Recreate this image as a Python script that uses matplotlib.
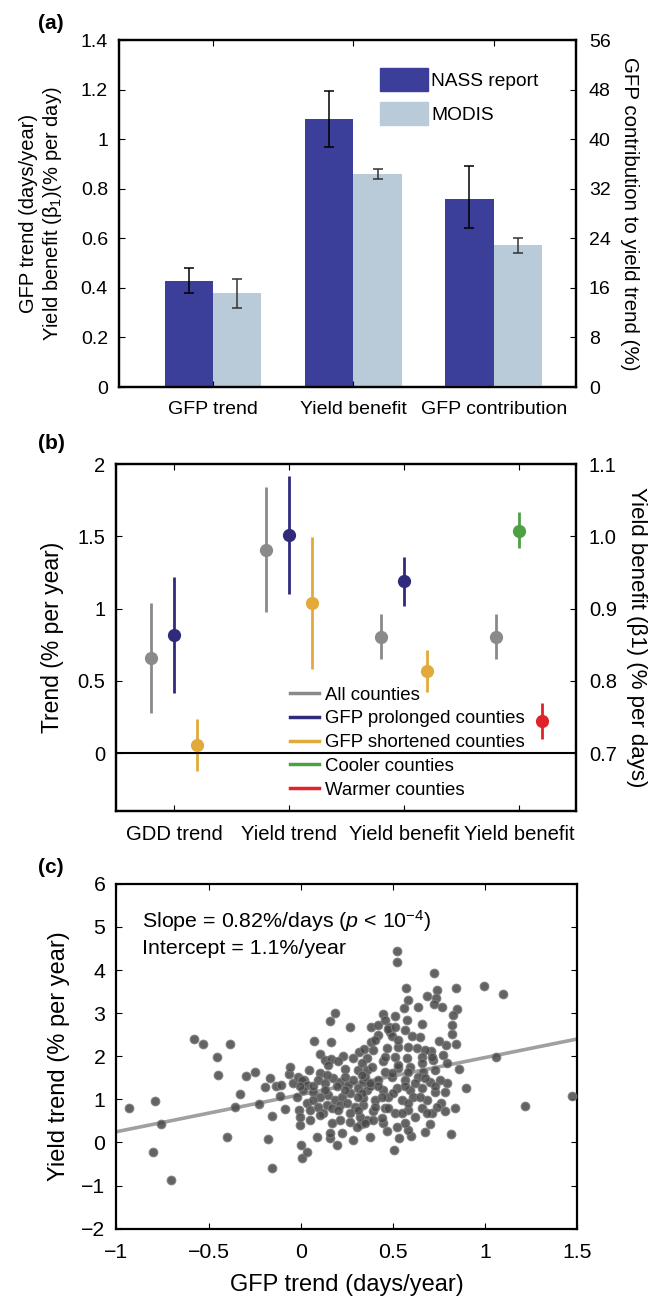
import matplotlib
matplotlib.use('Agg')
import matplotlib.pyplot as plt
from matplotlib.patches import Patch

plt.rcParams['font.family'] = ['Liberation Sans', 'DejaVu Sans']
plt.rcParams['font.size'] = 14
plt.rcParams['mathtext.fontset'] = 'custom'
plt.rcParams['mathtext.rm'] = 'Liberation Sans'
plt.rcParams['mathtext.it'] = 'Liberation Sans:italic'
plt.rcParams['axes.linewidth'] = 1.6
plt.rcParams['xtick.direction'] = 'in'
plt.rcParams['ytick.direction'] = 'in'

# ---- panel (a) data ----
a_groups = ['GFP trend', 'Yield benefit', 'GFP contribution']
nass_vals = [0.428, 1.081, 30.4]
nass_lo = [0.378, 0.969, 25.7]
nass_hi = [0.481, 1.195, 35.7]
modis_vals = [0.378, 0.859, 22.9]
modis_lo = [0.319, 0.839, 21.7]
modis_hi = [0.434, 0.879, 24.0]

# ---- panel (b) data ----  order: all, GFP prolonged/cooler, GFP shortened/warmer
b_groups = ['GDD trend', 'Yield trend', 'Yield benefit', 'Yield benefit']
gdd_mean = [0.656, 0.820, 0.058]
gdd_lo = [0.277, 0.418, -0.120]
gdd_hi = [1.040, 1.220, 0.236]
ytrend_mean = [1.409, 1.508, 1.040]
ytrend_lo = [0.979, 1.100, 0.582]
ytrend_hi = [1.838, 1.917, 1.497]
# yield benefit (right axis)
ben_gfp_mean = [0.861, 0.938, 0.814]
ben_gfp_lo = [0.830, 0.903, 0.785]
ben_gfp_hi = [0.892, 0.972, 0.843]
ben_temp_mean = [0.861, 1.007, 0.745]
ben_temp_lo = [0.830, 0.984, 0.720]
ben_temp_hi = [0.892, 1.033, 0.770]

# ---- panel (c) data ----
gfp_trend = [
    -0.934, -0.789, -0.757, -0.803, -0.702, -0.579, -0.528, -0.455, -0.384, -0.451,
    -0.327, -0.359, -0.400, -0.299, -0.247, -0.226, -0.180, -0.155, -0.155, -0.194,
    -0.167, -0.132, -0.114, -0.105, -0.085, -0.064, -0.057, -0.041, -0.018, -0.011,
    -0.006, -0.002, 0.003, 0.007, 0.035, -0.013, 0.016, 0.046, 0.074, 0.103,
    0.131, 0.161, 0.188, 0.165, 0.165, 0.227, 0.241, 0.268, 0.090, 0.158,
    0.161, 0.199, 0.225, 0.282, 0.374, 0.360, 0.392, 0.327, 0.310, 0.319,
    0.346, 0.383, 0.390, 0.381, 0.422, 0.447, 0.458, 0.479, 0.486, 0.497,
    0.511, 0.525, 0.520, 0.573, 0.582, 0.561, 0.579, 0.634, 0.657, 0.685,
    0.726, 0.742, 0.737, 0.721, 0.767, 0.841, 0.847, 0.829, 0.822, 0.822,
    0.841, 0.790, 0.749, 0.708, 0.795, 0.859, 0.898, 0.795, 0.760, 0.783,
    0.836, 0.817, 0.703, 0.674, 0.600, 0.531, 0.509, 0.467, 0.996, 1.099,
    1.058, 1.218, 1.470,
    0.150, 0.358, 0.105, 0.005, 0.033, 0.011, 0.096, 0.132, 0.177, 0.213,
    0.258, 0.286, 0.340, 0.358, 0.069, 0.105, 0.150, 0.186, 0.223, 0.268,
    0.033, 0.050, 0.096, 0.141, 0.168, 0.213, 0.250, 0.295, 0.340, 0.123,
    0.213, 0.268, 0.322, 0.349, -0.004,
    0.476, 0.421, 0.648, 0.630, 0.467, 0.530, 0.584, 0.675, 0.358, 0.449,
    0.512, 0.575, 0.657, 0.720, 0.385, 0.458, 0.530, 0.593, 0.666, 0.729,
    0.349, 0.421, 0.494, 0.566, 0.638, 0.702, 0.313, 0.376, 0.449, 0.521,
    0.593, 0.657, 0.729, 0.340, 0.403, 0.476, 0.548, 0.611, 0.684, 0.313,
    0.394, 0.458, 0.512, 0.584, 0.657, 0.711, 0.449, 0.584,
    0.403, 0.530, 0.602, 0.566, 0.512, 0.711, 0.584, 0.494, 0.421, 0.566,
    0.621, 0.503, 0.440, 0.584, 0.648, 0.403, 0.476, 0.548, 0.621, 0.684,
    0.738, 0.521, 0.566, 0.440, 0.756, 0.783, 0.675, 0.458, 0.331, 0.530,
    0.657, 0.774, 0.376, 0.331, 0.729,
    0.069, 0.132, 0.195, 0.240, 0.313, 0.069, 0.204, 0.105, 0.268, 0.168,
    0.304, 0.050, 0.240, 0.141, 0.331, 0.204, 0.286,
]
yield_trend = [
    0.81, 0.96, 0.44, -0.23, -0.87, 2.41, 2.28, 1.99, 2.29, 1.57,
    1.13, 0.83, 0.12, 1.54, 1.64, 0.89, 0.08, 0.61, -0.60, 1.28,
    1.49, 1.30, 1.08, 1.33, 0.78, 1.59, 1.76, 1.39, 1.06, 0.75,
    0.40, 0.60, -0.07, -0.37, -0.21, 1.51, 1.45, 1.68, 2.36, 2.05,
    1.91, 2.83, 3.01, 2.32, 1.93, 2.01, 1.71, 2.69, 0.12, 0.10,
    0.23, -0.06, 0.23, 0.05, 0.12, 0.52, 0.52, 0.44, 1.68, 2.11,
    2.16, 2.69, 2.14, 2.34, 2.73, 2.97, 2.84, 2.69, 2.57, 2.46,
    2.93, 4.45, 4.19, 3.59, 3.31, 3.11, 2.84, 3.15, 2.74, 3.41,
    3.94, 3.54, 3.35, 3.21, 3.15, 3.58, 3.09, 2.96, 2.73, 2.52,
    2.29, 2.26, 2.36, 2.12, 1.84, 1.70, 1.27, 1.37, 0.91, 0.72,
    0.81, 0.20, 0.44, 0.25, 0.14, 0.10, -0.17, 0.27, 3.64, 3.45,
    1.98, 0.85, 1.08,
    1.80, 1.68, 1.62, 1.45, 1.34, 1.22, 1.45, 1.37, 1.49, 1.41,
    1.34, 1.45, 1.41, 1.22, 1.18, 1.06, 1.10, 0.99, 1.06, 1.14,
    0.91, 0.76, 0.83, 0.87, 0.80, 0.87, 0.91, 0.83, 0.87, 0.68,
    0.52, 0.48, 0.60, 0.45, 1.30,
    2.63, 2.50, 2.44, 2.19, 2.19, 2.22, 2.22, 2.15, 1.95, 1.88,
    1.99, 1.95, 1.99, 1.92, 1.76, 1.64, 1.72, 1.76, 1.64, 1.68,
    1.53, 1.45, 1.53, 1.45, 1.53, 1.41, 1.26, 1.30, 1.22, 1.26,
    1.22, 1.26, 1.18, 1.03, 0.99, 1.06, 0.99, 1.06, 0.99, 0.76,
    0.72, 0.80, 0.68, 0.76, 0.80, 0.68, 0.45, 0.29,
    2.38, 2.38, 2.46, 2.61, 2.69, 1.99, 1.64, 1.61, 1.30, 1.30,
    1.37, 1.14, 1.06, 0.91, 1.06, 0.83, 0.79, 0.68, 0.60, 0.68,
    0.83, 0.37, 0.45, 0.56, 1.45, 1.18, 1.49, 1.99, 1.84, 1.80,
    1.84, 2.03, 1.37, 1.14, 1.30,
    1.30, 1.22, 1.30, 1.22, 1.06, 0.99, 0.76, 0.64, 0.68, 0.45,
    0.37, 0.52, 1.53, 1.57, 1.57, 1.88, 1.95,
]
fit_slope = 0.86
fit_intercept = 1.11

nass_color = '#3b3f99'
modis_color = '#b9cbd8'
b_colors_gfp = ['#8a8a8a', '#2f2a7c', '#e2a93b']
b_colors_temp = ['#8a8a8a', '#4ea045', '#e0222b']

fig = plt.figure(figsize=(6.58, 13.01), dpi=100)

# ================= (a) =================
ax = fig.add_axes([0.181, 0.7025, 0.695, 0.2667])
ax2 = ax.twinx()
w = 0.345
pos = [1, 2, 3]
err_kw = dict(fmt='none', capsize=3.5, elinewidth=1.1, capthick=1.1)
for i in range(2):
    ax.bar(pos[i] - w / 2, nass_vals[i], w, color=nass_color)
    ax.bar(pos[i] + w / 2, modis_vals[i], w, color=modis_color)
    ax.errorbar(pos[i] - w / 2, nass_vals[i],
                yerr=[[nass_vals[i] - nass_lo[i]], [nass_hi[i] - nass_vals[i]]],
                ecolor='black', **err_kw)
    ax.errorbar(pos[i] + w / 2, modis_vals[i],
                yerr=[[modis_vals[i] - modis_lo[i]], [modis_hi[i] - modis_vals[i]]],
                ecolor='#333333', **err_kw)
ax2.bar(pos[2] - w / 2, nass_vals[2], w, color=nass_color)
ax2.bar(pos[2] + w / 2, modis_vals[2], w, color=modis_color)
ax2.errorbar(pos[2] - w / 2, nass_vals[2],
             yerr=[[nass_vals[2] - nass_lo[2]], [nass_hi[2] - nass_vals[2]]],
             ecolor='black', **err_kw)
ax2.errorbar(pos[2] + w / 2, modis_vals[2],
             yerr=[[modis_vals[2] - modis_lo[2]], [modis_hi[2] - modis_vals[2]]],
             ecolor='#333333', **err_kw)
ax.set_xlim(0.33, 3.59)
ax.set_ylim(0, 1.4)
ax2.set_ylim(0, 56)
ax.set_yticks([0, 0.2, 0.4, 0.6, 0.8, 1, 1.2, 1.4])
ax.set_yticklabels(['0', '0.2', '0.4', '0.6', '0.8', '1', '1.2', '1.4'])
ax2.set_yticks(range(0, 57, 8))
ax.set_xticks(pos)
ax.set_xticklabels(a_groups)
ax.tick_params(axis='x', top=True, pad=10, length=4)
ax.tick_params(axis='y', pad=8, length=4)
ax2.tick_params(axis='y', pad=9, length=4)
ax.set_ylabel('GFP trend (days/year)\nYield benefit (β$_1$)(% per day)',
              fontsize=14.5, labelpad=12)
ax2.set_ylabel('GFP contribution to yield trend (%)', fontsize=14.8,
               rotation=270, labelpad=20)
ax.legend(handles=[Patch(color=nass_color, label='NASS report'),
                   Patch(color=modis_color, label='MODIS')],
          loc='upper left', bbox_to_anchor=(0.577, 0.948), bbox_transform=fig.transFigure,
          frameon=False, handlelength=2.5, handleheight=1.5, handletextpad=0.2,
          labelspacing=0.55, borderpad=0, borderaxespad=0, fontsize=13.8)

# ================= (b) =================
bx = fig.add_axes([0.177, 0.3766, 0.699, 0.2667])
bx2 = bx.twinx()
offs = [-0.2, 0.0, 0.2]
pt_kw = dict(fmt='o', markersize=8.5, elinewidth=2.0, capsize=0)
for k in range(3):
    bx.errorbar(1 + offs[k], gdd_mean[k],
                yerr=[[gdd_mean[k] - gdd_lo[k]], [gdd_hi[k] - gdd_mean[k]]],
                color=b_colors_gfp[k], **pt_kw)
    bx.errorbar(2 + offs[k], ytrend_mean[k],
                yerr=[[ytrend_mean[k] - ytrend_lo[k]], [ytrend_hi[k] - ytrend_mean[k]]],
                color=b_colors_gfp[k], **pt_kw)
    bx2.errorbar(3 + offs[k], ben_gfp_mean[k],
                 yerr=[[ben_gfp_mean[k] - ben_gfp_lo[k]], [ben_gfp_hi[k] - ben_gfp_mean[k]]],
                 color=b_colors_gfp[k], **pt_kw)
    bx2.errorbar(4 + offs[k], ben_temp_mean[k],
                 yerr=[[ben_temp_mean[k] - ben_temp_lo[k]], [ben_temp_hi[k] - ben_temp_mean[k]]],
                 color=b_colors_temp[k], **pt_kw)
bx.axhline(0, color='black', lw=1.5)
bx.set_xlim(0.5, 4.5)
bx.set_ylim(-0.4, 2)
bx2.set_ylim(0.62, 1.1)
bx.set_yticks([0, 0.5, 1, 1.5, 2])
bx.set_yticklabels(['0', '0.5', '1', '1.5', '2'])
bx2.set_yticks([0.7, 0.8, 0.9, 1.0, 1.1])
bx2.set_yticklabels(['0.7', '0.8', '0.9', '1.0', '1.1'])
bx.set_xticks([1, 2, 3, 4])
bx.set_xticklabels(b_groups, fontsize=14.6)
bx.tick_params(axis='x', top=True, pad=10, length=4)
bx.tick_params(axis='y', pad=8, length=4, labelsize=14.5)
bx2.tick_params(axis='y', pad=9, length=4, labelsize=14.5)
bx.set_ylabel('Trend (% per year)', fontsize=16.5, labelpad=10)
bx2.set_ylabel('Yield benefit (β1) (% per days)', fontsize=16,
               rotation=270, labelpad=22)
leg_labels = ['All counties', 'GFP prolonged counties', 'GFP shortened counties',
              'Cooler counties', 'Warmer counties']
leg_colors = ['#8a8a8a', '#2f2a7c', '#e2a93b', '#4ea045', '#e0222b']
handles = [plt.Line2D([], [], color=c, lw=2.5) for c in leg_colors]
bx.legend(handles, leg_labels, loc='upper left', bbox_to_anchor=(0.44, 0.4722),
          bbox_transform=fig.transFigure, frameon=False, handlelength=1.6,
          handletextpad=0.3, labelspacing=0.36, borderpad=0, borderaxespad=0,
          fontsize=13.4)

# ================= (c) =================
cx = fig.add_axes([0.177, 0.0556, 0.700, 0.265])
cx.scatter(gfp_trend, yield_trend, s=38, facecolor='#484848', edgecolor='#7a7a7a',
           linewidth=0.9, alpha=0.85, zorder=3)
xl = [-1, 1.5]
cx.plot(xl, [fit_intercept + fit_slope * v for v in xl], color='#a0a0a0', lw=2.6, zorder=2)
cx.set_xlim(-1, 1.5)
cx.set_ylim(-2, 6)
cx.set_xticks([-1, -0.5, 0, 0.5, 1, 1.5])
cx.set_xticklabels(['\u22121', '\u22120.5', '0', '0.5', '1', '1.5'])
cx.set_yticks(range(-2, 7))
cx.tick_params(axis='both', labelsize=15.3)
cx.tick_params(axis='x', top=True, pad=10, length=4)
cx.tick_params(axis='y', right=True, pad=8, length=4)
cx.set_xlabel('GFP trend (days/year)', fontsize=17, labelpad=9)
cx.set_ylabel('Yield trend (% per year)', fontsize=17, labelpad=8)
cx.text(-0.86, 5.14, 'Slope = 0.82%/days ($p$ < 10$^{\u22124}$)', va='center', fontsize=15.4)
cx.text(-0.86, 4.49, 'Intercept = 1.1%/year', va='center', fontsize=15.4)

for lab, yy in [('(a)', 0.982), ('(b)', 0.659), ('(c)', 0.333)]:
    fig.text(0.058, yy, lab, fontweight='bold', fontsize=15, va='center')

fig.savefig('out.png', dpi=100)
